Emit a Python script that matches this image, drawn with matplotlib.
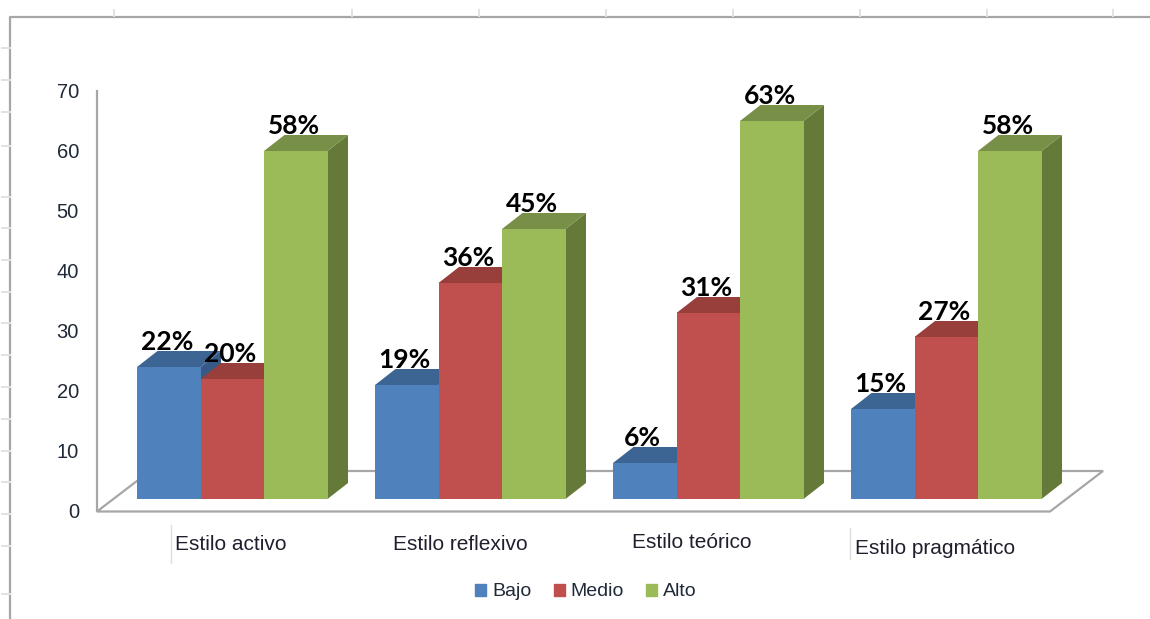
import matplotlib
matplotlib.use("Agg")
from matplotlib import pyplot as plt
from matplotlib.patches import Patch, Polygon

categories = ["Estilo activo", "Estilo reflexivo", "Estilo teórico", "Estilo pragmático"]
series = ["Bajo", "Medio", "Alto"]
bajo = [22, 19, 6, 15]
medio = [20, 36, 31, 27]
alto = [58, 45, 63, 58]
yticks = [0, 10, 20, 30, 40, 50, 60, 70]

front = ["#4f81bd", "#c0504d", "#9bbb59"]
top = ["#3c6594", "#983e3b", "#788f47"]
side = ["#365a85", "#8a3633", "#657a39"]
gray = "#a6a6a6"

W, H = 1150, 619
px_per_bar = 63.5
px_per_unit = 6.0
x0, y0 = 137, 499    # pixel of the first bar corner, value 0
depth_x = 20.5 / px_per_bar
depth_y = 16 / px_per_unit

def X(px):
    return (px - x0) / px_per_bar

def Y(py):
    return (y0 - py) / px_per_unit

fig = plt.figure(figsize=(W / 100, H / 100), dpi=100)
ax = fig.add_axes([0, 0, 1, 1])
ax.set_xlim(X(0), X(W))
ax.set_ylim(Y(H), Y(0))
ax.axis("off")

# sheet frame and the ruler marks round it
ax.plot([X(10), X(10), X(W)], [Y(H), Y(17), Y(17)], color=gray, lw=1.6)
for px in [114, 352, 479, 606, 733, 860, 987, 1113]:
    ax.plot([X(px), X(px)], [Y(10), Y(16)], color="#e2e2e2", lw=1.4)
for py in [48, 80, 112, 146, 197, 228, 260, 292, 323, 355, 387, 419, 451, 482, 514, 546, 594]:
    ax.plot([X(2), X(10)], [Y(py), Y(py)], color="#e2e2e2", lw=1.4)

# floor
floor = [(97, 511.5), (1050, 511.5), (1103, 471), (150, 471)]
ax.add_patch(Polygon([(X(a), Y(b)) for a, b in floor], closed=True, fc="white", ec=gray, lw=1.6, zorder=1))

values = [bajo, medio, alto]
for g in range(len(categories)):
    start = g * 238 / px_per_bar
    for s in range(3):
        v = values[s][g]
        left = start + s
        right = left + 1
        ax.add_patch(Polygon([(right, 0), (right + depth_x, depth_y), (right + depth_x, v + depth_y), (right, v)],
                             closed=True, fc=side[s], ec="none", zorder=2))
        ax.add_patch(Polygon([(left, v), (left + depth_x, v + depth_y), (right + depth_x, v + depth_y), (right, v)],
                             closed=True, fc=top[s], ec="none", zorder=2))
        ax.bar(left, v, width=1, align="edge", color=front[s], zorder=2)
        ax.text(left + 0.5 - 2 / px_per_bar, v + 4.2, "%d%%" % v, ha="center", va="center",
                fontsize=19, fontweight="bold", family="Lato", color="black", zorder=3)

# value axis lives on its own scale, 12 px below the bars
axis = fig.add_axes([97 / W, 1 - 511 / H, 1 / W, 420 / H])
axis.set_ylim(0, 70)
axis.set_xticks([])
axis.set_yticks(yticks)
axis.tick_params(axis="y", length=0, pad=13, labelsize=14.5, labelcolor="#1f2937")
for label in axis.get_yticklabels():
    label.set_family("Liberation Sans")
for name in ["top", "right", "bottom"]:
    axis.spines[name].set_visible(False)
axis.spines["left"].set_color(gray)
axis.spines["left"].set_linewidth(1.6)
axis.patch.set_visible(False)

# category labels sit at slightly different heights in the original
label_x = [175, 393, 632, 855]
label_y = [545, 544, 542, 548]
for name, a, b in zip(categories, label_x, label_y):
    ax.text(X(a), Y(b), name, ha="left", va="center", fontsize=15, family="Liberation Sans", color="#1f1f2e")
ax.plot([X(171), X(171)], [Y(525), Y(563)], color="#dddddd", lw=1)
ax.plot([X(850), X(850)], [Y(528), Y(559)], color="#dddddd", lw=1)

handles = [Patch(color=c, label=n) for c, n in zip(front, series)]
fig.legend(handles=handles, loc="center", bbox_to_anchor=(586 / W, 1 - 592 / H), ncol=3, frameon=False,
           prop={"family": "Liberation Sans", "size": 14}, handlelength=0.57, handleheight=0.57,
           handletextpad=0.3, columnspacing=1.15, labelcolor="#1f2937")

fig.savefig("out.png", dpi=100)
